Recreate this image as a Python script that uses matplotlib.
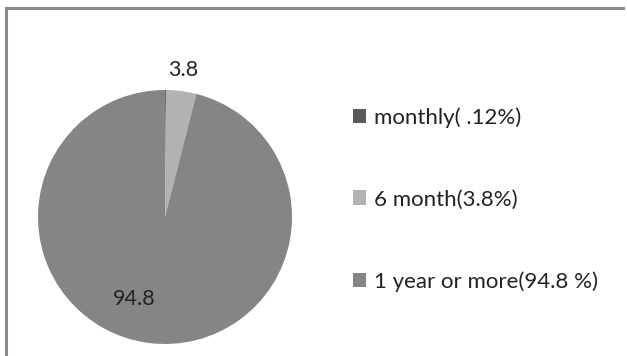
import matplotlib
matplotlib.use("Agg")
import matplotlib.pyplot as plt
from matplotlib.lines import Line2D
from matplotlib.patches import Patch

categories = ["monthly( .12%)", "6 month(3.8%)", "1 year or more(94.8 %)"]
values = [0.12, 3.8, 94.8]
colors = ["#5a5a5a", "#b2b2b2", "#858585"]
shown_labels = ["", "3.8", "94.8"]

plt.rcParams['font.family'] = ['Lato', 'DejaVu Sans']

W, H = 627, 356
fig = plt.figure(figsize=(W / 100, H / 100), dpi=100)
fig.patch.set_facecolor("white")

# frame lines (top and left)
fig.add_artist(Line2D([6 / W, 623 / W], [1 - 8 / H, 1 - 8 / H], color="#8a8a8a", lw=2.2))
fig.add_artist(Line2D([6 / W, 6 / W], [0, 1 - 8 / H], color="#8a8a8a", lw=2.2))

cx, cy, r = 165, 217, 127
ax = fig.add_axes([(cx - r) / W, 1 - (cy + r) / H, 2 * r / W, 2 * r / H])
wedges, _ = ax.pie(values, colors=colors, startangle=90, counterclock=False,
                   wedgeprops=dict(linewidth=0))
ax.set_xlim(-1, 1)
ax.set_ylim(-1, 1)
ax.set_aspect("equal")
ax.axis("off")

# data labels (manually placed as in reference)
label_pos = {1: (183, 70), 2: (134, 299)}
for i, (px, py) in label_pos.items():
    fig.text(px / W, 1 - py / H, shown_labels[i], ha="center", va="center",
             fontsize=15.5, color="#222222")

handles = [Patch(facecolor=c, edgecolor="none") for c in colors]
leg = fig.legend(handles, categories, loc="upper left",
                 bbox_to_anchor=(353 / W, 1 - 107 / H), frameon=False,
                 fontsize=16, handlelength=0.6, handleheight=0.6,
                 handletextpad=0.35, labelspacing=2.78, borderpad=0,
                 borderaxespad=0)
for t in leg.get_texts():
    t.set_color("#222222")

fig.savefig("out.png", dpi=100, facecolor="white")
